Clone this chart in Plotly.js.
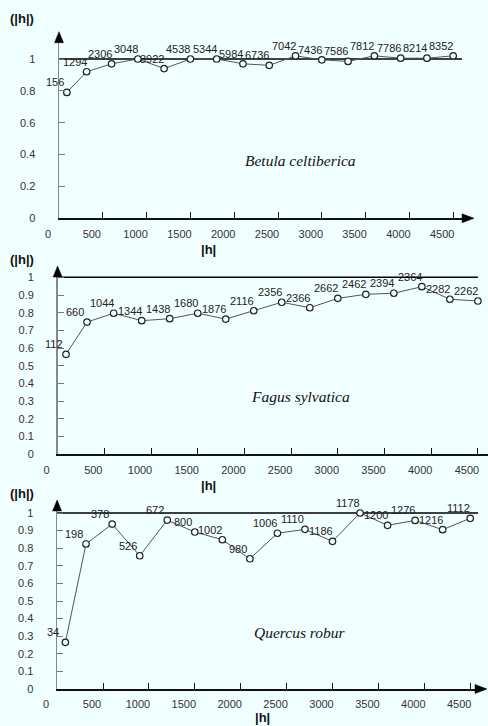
<!DOCTYPE html>
<html>
<head>
<meta charset="utf-8">
<script src="https://cdn.plot.ly/plotly-3.0.1.min.js"></script>
<style>
html, body { margin: 0; padding: 0; background: #F0FFFF; }
#chart { width: 488px; height: 726px; }
</style>
</head>
<body>
<div id="chart"></div>
<script>
// ---------- data ----------
const lagH = [90, 315, 600, 900, 1200, 1500, 1800, 2100, 2400, 2700, 3000, 3300, 3600, 3900, 4200, 4500];

const betulaGamma = [0.79, 0.92, 0.97, 1.00, 0.94, 1.00, 1.00, 0.97, 0.96, 1.02, 0.995, 0.985, 1.02, 1.005, 1.005, 1.02];
const betulaPairs = [156, 1294, 2306, 3048, 3922, 4538, 5344, 5984, 6736, 7042, 7436, 7586, 7812, 7786, 8214, 8352];

const fagusGamma = [0.565, 0.747, 0.797, 0.755, 0.766, 0.797, 0.764, 0.811, 0.859, 0.828, 0.881, 0.904, 0.910, 0.947, 0.876, 0.866];
const fagusPairs = [112, 660, 1044, 1344, 1438, 1680, 1876, 2116, 2356, 2366, 2662, 2462, 2394, 2364, 2282, 2262];

const quercusGamma = [0.265, 0.824, 0.937, 0.757, 0.960, 0.892, 0.848, 0.740, 0.885, 0.907, 0.839, 1.000, 0.930, 0.958, 0.905, 0.970];
const quercusPairs = [34, 198, 378, 526, 672, 800, 1002, 980, 1006, 1110, 1186, 1178, 1200, 1276, 1216, 1112];

const speciesNames = ['Betula celtiberica', 'Fagus sylvatica', 'Quercus robur'];
const xTickVals = [0, 500, 1000, 1500, 2000, 2500, 3000, 3500, 4000, 4500];
const yTickVals1 = [0, 0.2, 0.4, 0.6, 0.8, 1];
const yTickVals2 = [0, 0.1, 0.2, 0.3, 0.4, 0.5, 0.6, 0.7, 0.8, 0.9, 1];
const sillValue = 1;
const sillEnd = [4600, 4500, 4600];
const yAxisLabel = '(|h|)';
const xAxisLabel = '|h|';

// ---------- geometry (pixels) ----------
const W = 488, H = 726;
const BG = '#F0FFFF';
const panels = [
  {x0: 59,   xEnd: 462, pxPerUnitX: 0.0876, y0: 218.3, pxPerUnitY: 159.3, yTop: 1.102, yTicks: yTickVals1,
   yArrowTip: 31.7, xArrowTip: 474, spLabel: [300.5, 161], yLab: [21.7, 18.3], xLab: [208, 249]},
  {x0: 57.6, xEnd: 488, pxPerUnitX: 0.0934, y0: 454.3, pxPerUnitY: 177, yTop: 1.02, yTicks: yTickVals2,
   yArrowTip: 266, xArrowTip: null, spLabel: [300, 396.7], yLab: [21.7, 259.3], xLab: [208, 485]},
  {x0: 57.1, xEnd: 478, pxPerUnitX: 0.0918, y0: 689, pxPerUnitY: 176, yTop: 1.04, yTicks: yTickVals2,
   yArrowTip: 500, xArrowTip: 487, spLabel: [300, 632.3], yLab: [21.7, 493.3], xLab: [262, 717]}
];
const gammas = [betulaGamma, fagusGamma, quercusGamma];
const pairs = [betulaPairs, fagusPairs, quercusPairs];

const px = v => v / W;
const py = v => 1 - v / H;
const P = (x, y) => px(x) + ',' + py(y);

const traces = [];
const annotations = [];
const shapes = [];
const layout = {
  width: W, height: H,
  margin: {l: 0, r: 0, t: 0, b: 0},
  paper_bgcolor: BG, plot_bgcolor: BG,
  showlegend: false,
  font: {family: 'Liberation Sans, Arial, sans-serif', color: '#222'}
};

panels.forEach((p, i) => {
  const sfx = i === 0 ? '' : String(i + 1);
  const xa = 'x' + sfx, ya = 'y' + sfx;
  const xRangeMax = (p.xEnd - p.x0) / p.pxPerUnitX;
  const yTopPx = p.y0 - p.yTop * p.pxPerUnitY;

  layout['xaxis' + sfx] = {
    domain: [px(p.x0), px(p.xEnd)], range: [0, xRangeMax], anchor: ya,
    showline: true, linecolor: '#111', linewidth: 2,
    ticks: 'inside', ticklen: 6, tickcolor: '#111', tickwidth: 1,
    tickvals: xTickVals, showgrid: false, zeroline: false,
    tickfont: {size: 11, color: '#333', family: 'Liberation Sans, Arial, sans-serif'},
    ticklabelshift: -11, ticklabelstandoff: 4, fixedrange: true
  };
  layout['yaxis' + sfx] = {
    domain: [py(p.y0), py(yTopPx)], range: [0, p.yTop], anchor: xa,
    showline: true, linecolor: '#888', linewidth: 1.5,
    ticks: 'inside', ticklen: 6, tickcolor: '#777', tickwidth: 1,
    tickvals: p.yTicks, ticktext: p.yTicks.map(v => String(v)),
    showgrid: false, zeroline: false,
    tickfont: {size: 11, color: '#333', family: 'Liberation Sans, Arial, sans-serif'},
    ticklabelstandoff: 20, fixedrange: true
  };

  // sill reference line
  traces.push({
    x: [0, sillEnd[i]], y: [sillValue, sillValue], xaxis: xa, yaxis: ya,
    mode: 'lines', line: {color: '#000', width: 1.5}, hoverinfo: 'skip'
  });
  // experimental variogram
  traces.push({
    x: lagH, y: gammas[i], xaxis: xa, yaxis: ya,
    mode: 'lines+markers',
    line: {color: '#555', width: 1},
    marker: {symbol: 'circle', size: 6.5, color: BG, line: {color: '#222', width: 1.2}},
    cliponaxis: false
  });
  // pair-count labels
  pairs[i].forEach((n, k) => {
    annotations.push({
      xref: xa, yref: ya, x: lagH[k], y: gammas[i][k],
      text: String(n), showarrow: false, xanchor: 'center', yanchor: 'middle',
      xshift: -12, yshift: 10,
      font: {size: 11, color: '#222', family: 'Liberation Sans, Arial, sans-serif'}
    });
  });
  // species name
  annotations.push({
    xref: 'paper', yref: 'paper', x: px(p.spLabel[0]), y: py(p.spLabel[1]),
    text: speciesNames[i], showarrow: false, xanchor: 'center', yanchor: 'middle',
    font: {size: 15.5, color: '#111', family: 'Liberation Serif, Times New Roman, serif', style: 'italic'}
  });
  // axis labels
  annotations.push({
    xref: 'paper', yref: 'paper', x: px(p.yLab[0]), y: py(p.yLab[1]),
    text: '<b>' + yAxisLabel + '</b>', showarrow: false, xanchor: 'center', yanchor: 'middle',
    font: {size: 13, color: '#111', family: 'Liberation Sans, Arial, sans-serif'}
  });
  annotations.push({
    xref: 'paper', yref: 'paper', x: px(p.xLab[0]), y: py(p.xLab[1]),
    text: '<b>' + xAxisLabel + '</b>', showarrow: false, xanchor: 'center', yanchor: 'middle',
    font: {size: 13, color: '#111', family: 'Liberation Sans, Arial, sans-serif'}
  });
  // arrow heads
  const yt = p.yArrowTip;
  shapes.push({
    type: 'path', xref: 'paper', yref: 'paper', layer: 'above',
    path: 'M' + P(p.x0, yt) + ' L' + P(p.x0 - 4.5, yt + 11) + ' L' + P(p.x0 + 4.5, yt + 11) + ' Z',
    fillcolor: '#000', line: {color: '#000', width: 0.5}
  });
  if (p.xArrowTip) {
    const xt = p.xArrowTip;
    shapes.push({
      type: 'path', xref: 'paper', yref: 'paper', layer: 'above',
      path: 'M' + P(xt, p.y0) + ' L' + P(xt - 12, p.y0 - 4.5) + ' L' + P(xt - 12, p.y0 + 4.5) + ' Z',
      fillcolor: '#000', line: {color: '#000', width: 0.5}
    });
  }
});

layout.annotations = annotations;
layout.shapes = shapes;

Plotly.newPlot('chart', traces, layout, {displayModeBar: false, staticPlot: true});
</script>
</body>
</html>
